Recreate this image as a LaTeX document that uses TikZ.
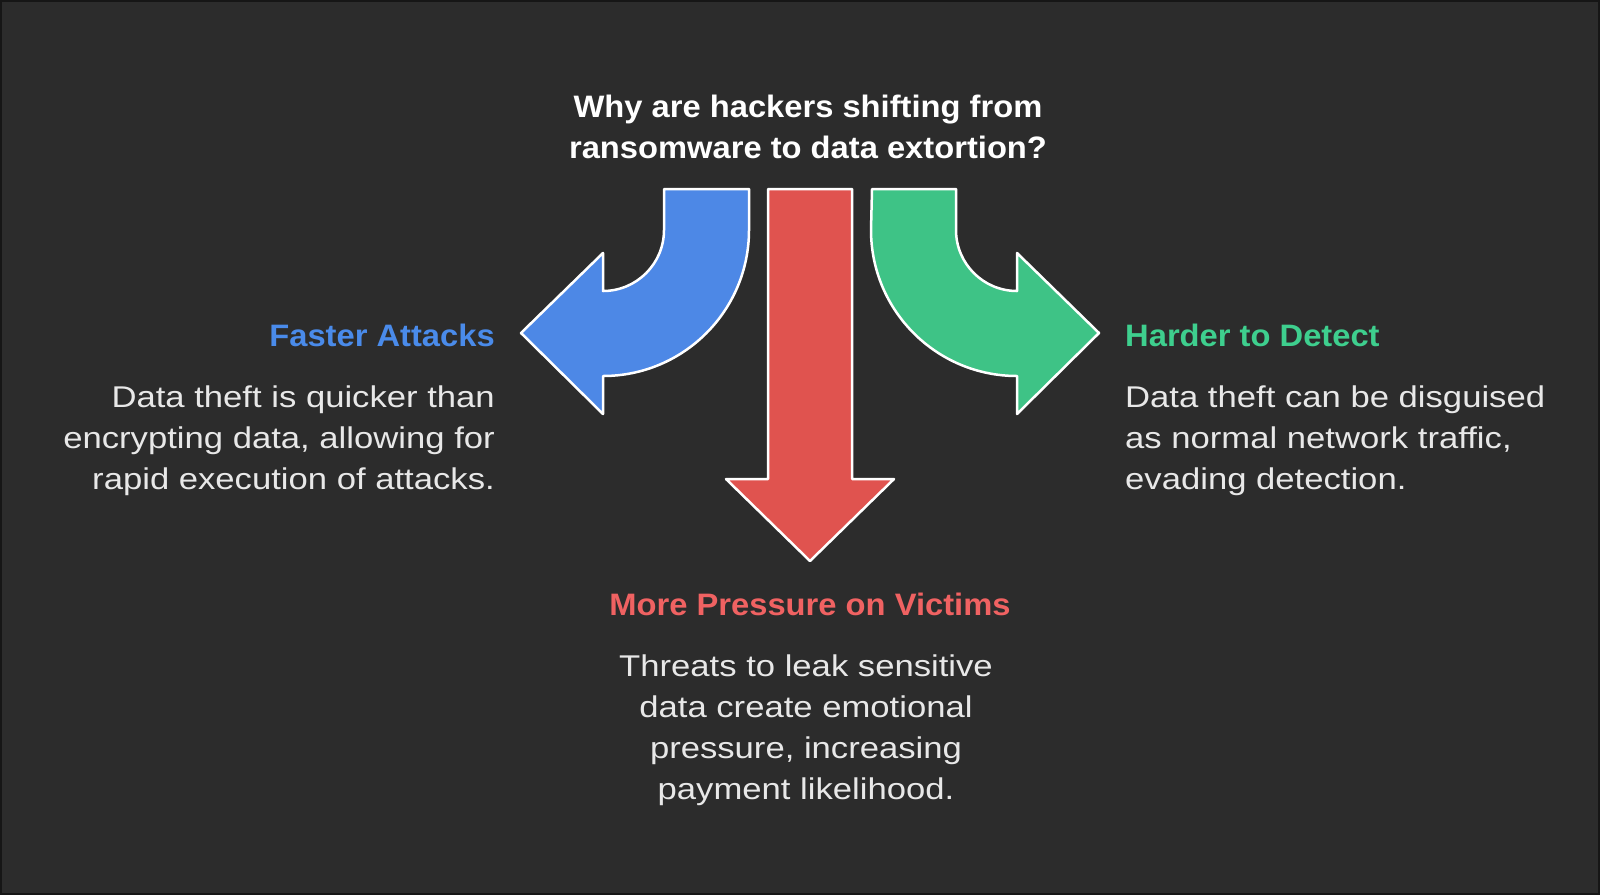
\documentclass[tikz,border=0pt]{standalone}
\usepackage{fontspec}
\setmainfont[FakeStretch=1.155]{Liberation Sans}
\newfontfamily\headfont[FakeStretch=1.055]{Liberation Sans Bold}
\definecolor{bg}{HTML}{2C2C2C}
\definecolor{edge}{HTML}{161616}
\definecolor{blueA}{HTML}{4D88E6}
\definecolor{redA}{HTML}{E0534F}
\definecolor{greenA}{HTML}{3EC386}
\definecolor{blueT}{HTML}{4A8BEA}
\definecolor{redT}{HTML}{F06262}
\definecolor{greenT}{HTML}{3ECF8E}
\definecolor{bodyT}{HTML}{E8E8E8}
\begin{document}
\begin{tikzpicture}[x=1pt,y=-1pt,
  bigarrow/.style={draw=white,line width=2.5pt,line join=round},
  head/.style={inner sep=0,font=\fontsize{31}{41}\selectfont\headfont},
  body/.style={inner sep=0,text=bodyT,font=\fontsize{30}{41}\selectfont}]
\useasboundingbox (0,0) rectangle (1600,895);
\fill[edge](0,0)rectangle(1600,895);\fill[bg](2,2)rectangle(1598,893);
\draw[bigarrow,fill=blueA](664,189)--(749,189)--(749,230)arc[start angle=0,end angle=90,radius=146]--(603,414)--(521,333)--(603,253)--(603,291)arc[start angle=90,end angle=0,radius=61]--cycle;
\draw[bigarrow,fill=redA](768,189)--(852,189)--(852,479)--(894,479)--(810,561)--(726,479)--(768,479)--cycle;
\draw[bigarrow,fill=greenA](872,189)--(956,189)--(956,230)arc[start angle=180,end angle=90,radius=61]--(1017,253)--(1099,333)--(1017,414)--(1017,376)arc[start angle=90,end angle=180,radius=146]--cycle;
\node[head,text=white,align=center,anchor=north](title)at(808,95){Why are hackers shifting from\\ransomware to data extortion?};
\node[head,text=blueT,anchor=base east](fast)at(495,346){Faster Attacks};
\node[body,align=right,anchor=north east](fastd)at(495,386){Data theft is quicker than\\encrypting data, allowing for\\rapid execution of attacks.};
\node[head,text=greenT,anchor=base west](hard)at(1125,346){Harder to Detect};
\node[body,align=left,anchor=north west](hardd)at(1125,386){Data theft can be disguised\\as normal network traffic,\\evading detection.};
\node[head,text=redT,anchor=base](press)at(810,615){More Pressure on Victims};
\node[body,align=center,anchor=north](pressd)at(806,655){Threats to leak sensitive\\data create emotional\\pressure, increasing\\payment likelihood.};
\end{tikzpicture}
\end{document}
